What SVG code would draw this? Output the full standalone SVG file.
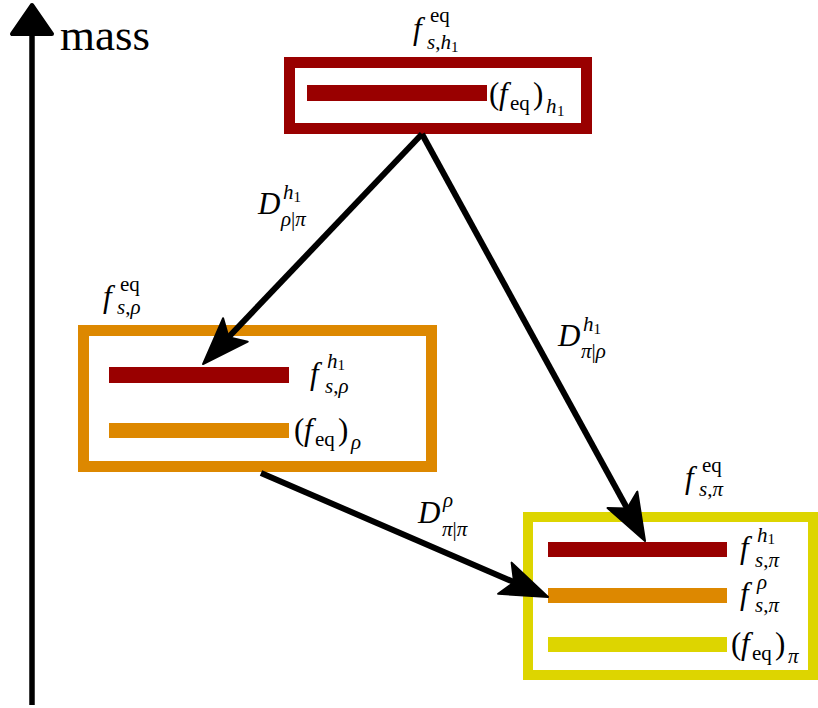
<svg xmlns="http://www.w3.org/2000/svg" width="818" height="708" viewBox="0 0 818 708">
<style>
.t{font-family:"Liberation Serif","Times New Roman",serif;fill:#000}
.m{font-size:31px}
.s{font-size:21px}
.x{font-size:15px}
.i{font-style:italic}
.n{font-style:normal}
.box{fill:#fff}
.edge{stroke:#000;stroke-width:6;fill:none;marker-end:url(#ah)}
</style>
<defs>
<marker id="ah" markerUnits="userSpaceOnUse" orient="auto" refX="0" refY="0" markerWidth="80" markerHeight="80" viewBox="-30 -30 80 60" overflow="visible">
<path d="M30,0 L-17,-17 L-7,0 L-17,17 Z" fill="#000" stroke="#000" stroke-width="2" stroke-linejoin="round"/>
</marker>
</defs>
<rect width="818" height="708" fill="#fff"/>

<g id="axis">
<line x1="32" y1="705" x2="32" y2="30" stroke="#000" stroke-width="5.5"/>
<polygon points="32,5 12,34 52,34" fill="#000" stroke="#000" stroke-width="4" stroke-linejoin="round"/>
<text class="t" x="60" y="50" font-size="45">mass</text>
</g>

<g id="node-h1">
<rect class="box" x="289.5" y="62.5" width="297" height="66" stroke="#990000" stroke-width="11"/>
<rect x="307" y="85" width="180" height="16" fill="#990000"/>
<text class="t m i" x="413" y="39">f</text>
<text class="t s" x="430" y="22">eq</text>
<text class="t s i" x="427" y="49">s<tspan class="n">,</tspan>h<tspan class="x n" dy="3">1</tspan></text>
<text class="t m"><tspan x="489" y="104">(</tspan><tspan class="i" x="499" y="104">f</tspan><tspan class="s" x="510" y="110">eq</tspan><tspan x="533" y="104">)</tspan><tspan class="s i" x="546" y="113">h</tspan><tspan class="x" x="557" y="116">1</tspan></text>
</g>

<g id="node-rho">
<rect class="box" x="83.5" y="330.5" width="348" height="136" stroke="#dd8800" stroke-width="11"/>
<rect x="109" y="367" width="180" height="16" fill="#990000"/>
<rect x="109" y="423" width="180" height="15" fill="#dd8800"/>
<text class="t m i" x="103" y="307">f</text>
<text class="t s" x="120" y="291">eq</text>
<text class="t s i" x="117" y="314">s<tspan class="n">,</tspan>ρ</text>
<text class="t m i" x="310" y="384">f</text>
<text class="t s i" x="327" y="368">h<tspan class="x n" dy="2">1</tspan></text>
<text class="t s i" x="325" y="393">s<tspan class="n">,</tspan>ρ</text>
<text class="t m"><tspan x="294" y="440">(</tspan><tspan class="i" x="304" y="440">f</tspan><tspan class="s" x="315" y="446">eq</tspan><tspan x="338" y="440">)</tspan><tspan class="s i" x="351" y="449">ρ</tspan></text>
</g>

<g id="node-pi">
<rect class="box" x="528" y="517" width="285" height="158" stroke="#ddd500" stroke-width="10"/>
<rect x="548" y="542" width="179" height="15" fill="#990000"/>
<rect x="548" y="588" width="179" height="15" fill="#dd8800"/>
<rect x="548" y="637" width="179" height="15" fill="#ddd500"/>
<text class="t m i" x="685" y="488">f</text>
<text class="t s" x="702" y="472">eq</text>
<text class="t s i" x="699" y="496">s<tspan class="n">,</tspan>π</text>
<text class="t m i" x="740" y="558">f</text>
<text class="t s i" x="757" y="542">h<tspan class="x n" dy="2">1</tspan></text>
<text class="t s i" x="755" y="567">s<tspan class="n">,</tspan>π</text>
<text class="t m i" x="740" y="604">f</text>
<text class="t s i" x="757" y="589">ρ</text>
<text class="t s i" x="755" y="612">s<tspan class="n">,</tspan>π</text>
<text class="t m"><tspan x="731" y="654">(</tspan><tspan class="i" x="741" y="654">f</tspan><tspan class="s" x="752" y="660">eq</tspan><tspan x="775" y="654">)</tspan><tspan class="s i" x="788" y="663">π</tspan></text>
</g>

<g id="connectors">
<line class="edge" x1="422" y1="134" x2="223.7" y2="342.3"/>
<line class="edge" x1="422" y1="134" x2="630.6" y2="514.7"/>
<line class="edge" x1="261" y1="473" x2="520.5" y2="585"/>
<text class="t m i" x="258" y="214">D</text>
<text class="t s i" x="283" y="199">h<tspan class="x n" dy="3">1</tspan></text>
<text class="t s i" x="281" y="226">ρ<tspan class="n">|</tspan>π</text>
<text class="t m i" x="558" y="346">D</text>
<text class="t s i" x="583" y="331">h<tspan class="x n" dy="3">1</tspan></text>
<text class="t s i" x="581" y="358">π<tspan class="n">|</tspan>ρ</text>
<text class="t m i" x="418" y="523">D</text>
<text class="t s i" x="443" y="507">ρ</text>
<text class="t s i" x="442" y="536">π<tspan class="n">|</tspan>π</text>
</g>
</svg>
